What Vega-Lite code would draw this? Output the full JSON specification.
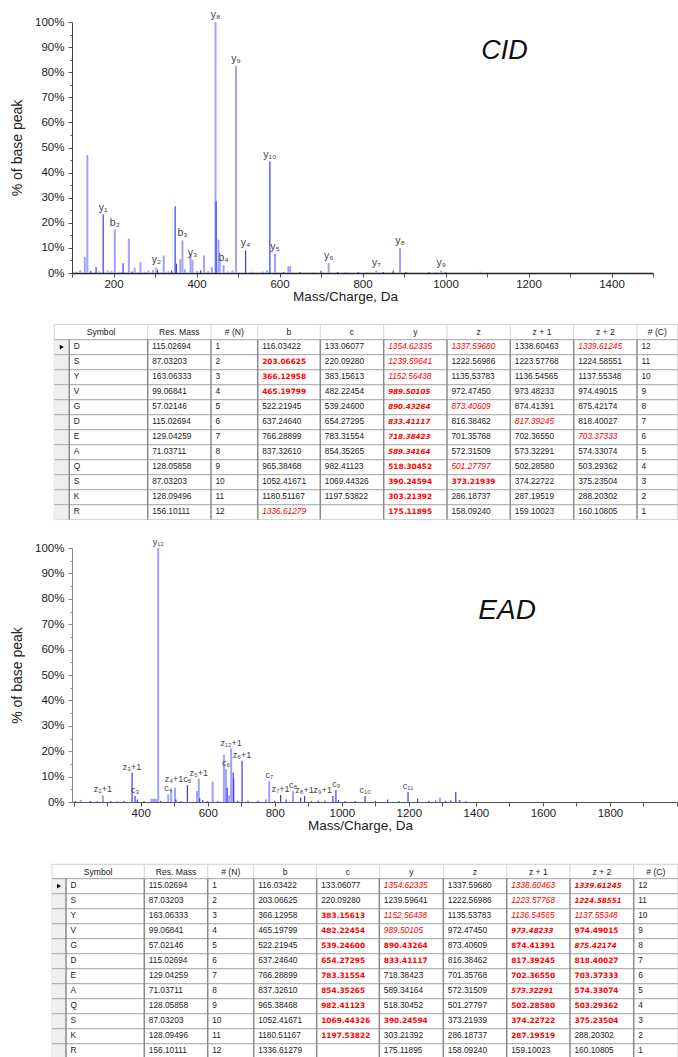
{
"$schema": "https://vega.github.io/schema/vega-lite/v6.json",
"padding": {"left": 10, "top": 10, "right": 0, "bottom": 0},
"background": "white",
"spacing": 20,
"bounds": "flush",
"config": {"font": "Liberation Sans", "view": {"stroke": null}},
"datasets": {
"cid": [
{"mz":110,"pct":0.5,"s":1},{"mz":119.7,"pct":1,"s":1},{"mz":131,"pct":6.4,"s":1},{"mz":137,"pct":47,"s":1},{"mz":145,"pct":0.8,"s":2},{"mz":158,"pct":2.4,"s":2},{"mz":165,"pct":0.6,"s":1},
{"mz":175.12,"pct":23.3,"s":2,"lab":"y₁"},{"mz":186,"pct":1,"s":1},{"mz":195,"pct":0.7,"s":1},{"mz":203.07,"pct":17.3,"s":1,"lab":"b₂"},{"mz":215,"pct":0.5,"s":1},{"mz":223,"pct":3.9,"s":2},
{"mz":237,"pct":13.6,"s":1},{"mz":245,"pct":0.6,"s":2},{"mz":251,"pct":2.1,"s":1},{"mz":265,"pct":4.3,"s":1},{"mz":275,"pct":0.5,"s":1},{"mz":284,"pct":1,"s":1},{"mz":295,"pct":1.2,"s":1},
{"mz":303.21,"pct":2.2,"s":1,"lab":"y₂"},{"mz":306,"pct":1.2,"s":2},{"mz":321,"pct":7,"s":1},{"mz":332,"pct":0.7,"s":1},{"mz":340,"pct":1,"s":2},{"mz":348.5,"pct":26.6,"s":2},{"mz":351.7,"pct":3.7,"s":2},
{"mz":361,"pct":5.6,"s":1},{"mz":366.13,"pct":13,"s":1,"lab":"b₃"},{"mz":372,"pct":1.5,"s":1},{"mz":385.5,"pct":7.7,"s":1},{"mz":390.25,"pct":5.3,"s":1,"lab":"y₃"},{"mz":402,"pct":0.8,"s":1},
{"mz":410,"pct":1.1,"s":2},{"mz":418,"pct":7,"s":1},{"mz":428,"pct":0.8,"s":1},{"mz":437,"pct":2.4,"s":1},{"mz":445.72,"pct":100,"s":1,"lab":"y₈"},{"mz":447.3,"pct":28.6,"s":2},{"mz":453,"pct":13.3,"s":1},
{"mz":456,"pct":5.5,"s":1},{"mz":465.2,"pct":3.2,"s":1,"lab":"b₄"},{"mz":476,"pct":0.6,"s":1},{"mz":486.6,"pct":1,"s":1},{"mz":495.25,"pct":82.4,"s":1,"lab":"y₉"},{"mz":518.3,"pct":9,"s":2,"lab":"y₄"},
{"mz":535,"pct":0.5,"s":1},{"mz":560,"pct":0.6,"s":1},{"mz":570,"pct":1,"s":1},{"mz":576.79,"pct":44.4,"s":2,"lab":"y₁₀"},{"mz":589.34,"pct":7.7,"s":1,"lab":"y₅"},{"mz":610,"pct":0.4,"s":2},
{"mz":621.5,"pct":2.7,"s":1},{"mz":625.5,"pct":2.7,"s":1},{"mz":650,"pct":0.4,"s":2},{"mz":680,"pct":0.3,"s":1},{"mz":700,"pct":0.9,"s":2},{"mz":718.38,"pct":4,"s":1,"lab":"y₆"},{"mz":740,"pct":0.4,"s":2},
{"mz":760,"pct":0.4,"s":1},{"mz":790,"pct":0.4,"s":2},{"mz":810,"pct":0.4,"s":1},{"mz":833.41,"pct":1,"s":1,"lab":"y₇"},{"mz":850,"pct":0.4,"s":2},{"mz":874,"pct":0.9,"s":2},
{"mz":890.43,"pct":10,"s":1,"lab":"y₈"},{"mz":905,"pct":0.4,"s":2},{"mz":960,"pct":0.4,"s":2},{"mz":975,"pct":0.4,"s":1},{"mz":989.5,"pct":1,"s":1,"lab":"y₉"},{"mz":1000,"pct":0.3,"s":2},{"mz":1085,"pct":0.5,"s":1}
],
"ead": [
{"mz":205,"pct":0.4,"s":2},{"mz":221,"pct":0.8,"s":1},{"mz":250,"pct":0.4,"s":2},{"mz":270,"pct":0.3,"s":2},{"mz":287.2,"pct":2.6,"s":1,"lab":"z₂+1"},{"mz":310,"pct":0.4,"s":2},{"mz":330,"pct":0.4,"s":1},
{"mz":350,"pct":0.5,"s":2},{"mz":374.23,"pct":11.6,"s":2,"lab":"z₃+1"},{"mz":383.16,"pct":2.4,"s":2,"lab":"c₃"},{"mz":390,"pct":1,"s":2},{"mz":410,"pct":0.4,"s":2},{"mz":432,"pct":1.3,"s":1},
{"mz":437,"pct":1.3,"s":1},{"mz":442,"pct":1.3,"s":1},{"mz":446,"pct":1.1,"s":1},{"mz":452.21,"pct":100,"s":1,"lab":"y₁₂"},{"mz":460,"pct":0.5,"s":2},{"mz":482.22,"pct":3,"s":1,"lab":"c₄"},
{"mz":491,"pct":4.4,"s":1},{"mz":502.29,"pct":5.6,"s":1,"lab":"z₄+1"},{"mz":505,"pct":1,"s":2},{"mz":520,"pct":0.4,"s":2},{"mz":539.25,"pct":6.7,"s":2,"lab":"c₅"},{"mz":568,"pct":4.3,"s":1},
{"mz":573.32,"pct":9.2,"s":1,"lab":"z₅+1"},{"mz":576,"pct":1.5,"s":2},{"mz":585,"pct":0.8,"s":2},{"mz":600,"pct":0.4,"s":2},{"mz":614.5,"pct":8,"s":1},{"mz":630,"pct":0.4,"s":2},
{"mz":648.2,"pct":18.5,"s":1},{"mz":654.27,"pct":12.9,"s":1,"lab":"c₆"},{"mz":658,"pct":5.6,"s":2},{"mz":664,"pct":2.6,"s":1},{"mz":669.8,"pct":21,"s":1,"lab":"z₁₂+1"},{"mz":676,"pct":11.6,"s":2},
{"mz":677.5,"pct":9,"s":2},{"mz":690,"pct":0.5,"s":2},{"mz":702.37,"pct":16.2,"s":2,"lab":"z₆+1"},{"mz":720,"pct":0.5,"s":2},{"mz":750,"pct":0.5,"s":2},{"mz":774,"pct":1,"s":1},
{"mz":783.32,"pct":8.3,"s":1,"lab":"c₇"},{"mz":800,"pct":0.4,"s":2},{"mz":817.39,"pct":2.8,"s":2,"lab":"z₇+1"},{"mz":834,"pct":1,"s":2},{"mz":854.35,"pct":4.3,"s":1,"lab":"c₈"},
{"mz":877,"pct":1.7,"s":2},{"mz":889,"pct":2.4,"s":2,"lab":"z₈+1"},{"mz":910,"pct":0.4,"s":2},{"mz":930,"pct":0.5,"s":2},{"mz":950,"pct":0.6,"s":2},{"mz":973.48,"pct":2.4,"s":2,"lab":"z₉+1"},
{"mz":982.41,"pct":4.7,"s":2,"lab":"c₉"},{"mz":990,"pct":0.8,"s":2},{"mz":1010,"pct":0.4,"s":2},{"mz":1040,"pct":0.4,"s":2},{"mz":1069.44,"pct":2.4,"s":2,"lab":"c₁₀"},{"mz":1100,"pct":0.4,"s":2},
{"mz":1137,"pct":1,"s":2},{"mz":1170,"pct":0.4,"s":2},{"mz":1197.54,"pct":3.9,"s":2,"lab":"c₁₁"},{"mz":1226,"pct":1.3,"s":2},{"mz":1260,"pct":0.5,"s":2},{"mz":1280,"pct":0.6,"s":2},
{"mz":1293,"pct":1.7,"s":1},{"mz":1310,"pct":0.5,"s":2},{"mz":1325,"pct":0.6,"s":2},{"mz":1340,"pct":3.9,"s":2},{"mz":1352,"pct":0.8,"s":2},{"mz":1370,"pct":0.3,"s":2}
],
"hdr": [
{"c":1,"h":"Symbol"},{"c":2,"h":"Res. Mass"},{"c":3,"h":"# (N)"},{"c":4,"h":"b"},{"c":5,"h":"c"},{"c":6,"h":"y"},{"c":7,"h":"z"},{"c":8,"h":"z + 1"},{"c":9,"h":"z + 2"},{"c":10,"h":"# (C)"}
],
"cells": [
{"r":1,"c":1,"v":"D"},{"r":1,"c":2,"v":"115.02694"},{"r":1,"c":3,"v":"1"},{"r":1,"c":4,"v":"116.03422"},{"r":1,"c":5,"v":"133.06077"},{"r":1,"c":6,"v":"1354.62335","a":2,"e":2},{"r":1,"c":7,"v":"1337.59680","a":2},{"r":1,"c":8,"v":"1338.60463","e":2},{"r":1,"c":9,"v":"1339.61245","a":2,"e":3},{"r":1,"c":10,"v":"12"},
{"r":2,"c":1,"v":"S"},{"r":2,"c":2,"v":"87.03203"},{"r":2,"c":3,"v":"2"},{"r":2,"c":4,"v":"203.06625","a":1},{"r":2,"c":5,"v":"220.09280"},{"r":2,"c":6,"v":"1239.59641","a":2},{"r":2,"c":7,"v":"1222.56986"},{"r":2,"c":8,"v":"1223.57768","e":2},{"r":2,"c":9,"v":"1224.58551","e":3},{"r":2,"c":10,"v":"11"},
{"r":3,"c":1,"v":"Y"},{"r":3,"c":2,"v":"163.06333"},{"r":3,"c":3,"v":"3"},{"r":3,"c":4,"v":"366.12958","a":1},{"r":3,"c":5,"v":"383.15613","e":1},{"r":3,"c":6,"v":"1152.56438","a":2,"e":2},{"r":3,"c":7,"v":"1135.53783"},{"r":3,"c":8,"v":"1136.54565","e":2},{"r":3,"c":9,"v":"1137.55348","e":2},{"r":3,"c":10,"v":"10"},
{"r":4,"c":1,"v":"V"},{"r":4,"c":2,"v":"99.06841"},{"r":4,"c":3,"v":"4"},{"r":4,"c":4,"v":"465.19799","a":1},{"r":4,"c":5,"v":"482.22454","e":1},{"r":4,"c":6,"v":"989.50105","a":3,"e":2},{"r":4,"c":7,"v":"972.47450"},{"r":4,"c":8,"v":"973.48233","e":3},{"r":4,"c":9,"v":"974.49015","e":1},{"r":4,"c":10,"v":"9"},
{"r":5,"c":1,"v":"G"},{"r":5,"c":2,"v":"57.02146"},{"r":5,"c":3,"v":"5"},{"r":5,"c":4,"v":"522.21945"},{"r":5,"c":5,"v":"539.24600","e":1},{"r":5,"c":6,"v":"890.43264","a":3,"e":1},{"r":5,"c":7,"v":"873.40609","a":2},{"r":5,"c":8,"v":"874.41391","e":1},{"r":5,"c":9,"v":"875.42174","e":3},{"r":5,"c":10,"v":"8"},
{"r":6,"c":1,"v":"D"},{"r":6,"c":2,"v":"115.02694"},{"r":6,"c":3,"v":"6"},{"r":6,"c":4,"v":"637.24640"},{"r":6,"c":5,"v":"654.27295","e":1},{"r":6,"c":6,"v":"833.41117","a":3,"e":1},{"r":6,"c":7,"v":"816.38462"},{"r":6,"c":8,"v":"817.39245","a":2,"e":1},{"r":6,"c":9,"v":"818.40027","e":1},{"r":6,"c":10,"v":"7"},
{"r":7,"c":1,"v":"E"},{"r":7,"c":2,"v":"129.04259"},{"r":7,"c":3,"v":"7"},{"r":7,"c":4,"v":"766.28899"},{"r":7,"c":5,"v":"783.31554","e":1},{"r":7,"c":6,"v":"718.38423","a":3},{"r":7,"c":7,"v":"701.35768"},{"r":7,"c":8,"v":"702.36550","e":1},{"r":7,"c":9,"v":"703.37333","a":2,"e":1},{"r":7,"c":10,"v":"6"},
{"r":8,"c":1,"v":"A"},{"r":8,"c":2,"v":"71.03711"},{"r":8,"c":3,"v":"8"},{"r":8,"c":4,"v":"837.32610"},{"r":8,"c":5,"v":"854.35265","e":1},{"r":8,"c":6,"v":"589.34164","a":3},{"r":8,"c":7,"v":"572.31509"},{"r":8,"c":8,"v":"573.32291","e":3},{"r":8,"c":9,"v":"574.33074","e":1},{"r":8,"c":10,"v":"5"},
{"r":9,"c":1,"v":"Q"},{"r":9,"c":2,"v":"128.05858"},{"r":9,"c":3,"v":"9"},{"r":9,"c":4,"v":"965.38468"},{"r":9,"c":5,"v":"982.41123","e":1},{"r":9,"c":6,"v":"518.30452","a":1},{"r":9,"c":7,"v":"501.27797","a":2},{"r":9,"c":8,"v":"502.28580","e":1},{"r":9,"c":9,"v":"503.29362","e":1},{"r":9,"c":10,"v":"4"},
{"r":10,"c":1,"v":"S"},{"r":10,"c":2,"v":"87.03203"},{"r":10,"c":3,"v":"10"},{"r":10,"c":4,"v":"1052.41671"},{"r":10,"c":5,"v":"1069.44326","e":1},{"r":10,"c":6,"v":"390.24594","a":1,"e":1},{"r":10,"c":7,"v":"373.21939","a":1},{"r":10,"c":8,"v":"374.22722","e":1},{"r":10,"c":9,"v":"375.23504","e":1},{"r":10,"c":10,"v":"3"},
{"r":11,"c":1,"v":"K"},{"r":11,"c":2,"v":"128.09496"},{"r":11,"c":3,"v":"11"},{"r":11,"c":4,"v":"1180.51167"},{"r":11,"c":5,"v":"1197.53822","e":1},{"r":11,"c":6,"v":"303.21392","a":1},{"r":11,"c":7,"v":"286.18737"},{"r":11,"c":8,"v":"287.19519","e":1},{"r":11,"c":9,"v":"288.20302"},{"r":11,"c":10,"v":"2"},
{"r":12,"c":1,"v":"R"},{"r":12,"c":2,"v":"156.10111"},{"r":12,"c":3,"v":"12"},{"r":12,"c":4,"v":"1336.61279","a":2},{"r":12,"c":6,"v":"175.11895","a":1},{"r":12,"c":7,"v":"158.09240"},{"r":12,"c":8,"v":"159.10023"},{"r":12,"c":9,"v":"160.10805"},{"r":12,"c":10,"v":"1"}
]
},
"vconcat": [
{
"width": 581, "height": 251,
"data": {"name": "cid"},
"layer": [
{"mark": {"type": "rule"},
 "encoding": {
  "x": {"field": "mz", "type": "quantitative", "scale": {"domain": [100, 1500], "nice": false, "zero": false},
        "axis": {"values": [100,200,300,400,500,600,700,800,900,1000,1100,1200,1300,1400,1500], "tickCount": 40, "labelExpr": "datum.value % 200 === 0 ? datum.label : ''", "format": "d", "title": "Mass/Charge, Da", "titleX": 273, "titleY": 16.5, "grid": false, "tickSize": 4, "labelPadding": 1.5, "labelFontSize": 11.5, "titleFontSize": 13.5, "titleFontWeight": "normal", "labelFlush": false, "labelOverlap": false, "domainColor": "#222", "domainWidth": 1.6, "tickColor": "#555", "labelColor": "#222", "titleColor": "#222"}},
  "y": {"field": "pct", "type": "quantitative", "scale": {"domain": [0, 100], "nice": false},
        "axis": {"values": [0,5,10,15,20,25,30,35,40,45,50,55,60,65,70,75,80,85,90,95,100], "tickCount": 40, "labelExpr": "datum.value % 10 === 0 ? datum.value + '%' : ''", "title": "% of base peak", "grid": false, "tickSize": {"condition": {"test": "datum.value % 10 !== 0", "value": 2}, "value": 4}, "labelPadding": 4, "titlePadding": 10, "labelFontSize": 11.5, "titleFontSize": 14, "titleFontWeight": "normal", "labelFlush": false, "labelOverlap": false, "domainColor": "#444", "tickColor": "#555", "labelColor": "#222", "titleColor": "#222"}},
  "y2": {"datum": 0},
  "color": {"field": "s", "type": "ordinal", "scale": {"domain": [1, 2], "range": ["#a0a0ff", "#3a3aff"]}, "legend": null},
  "strokeWidth": {"field": "s", "type": "ordinal", "scale": {"domain": [1, 2], "range": [2, 1.2]}, "legend": null}
 }},
{"transform": [{"filter": "datum.lab"}],
 "mark": {"type": "text", "fontSize": 10.5, "color": "#444", "baseline": "alphabetic", "dy": -4},
 "encoding": {"x": {"field": "mz", "type": "quantitative"}, "y": {"field": "pct", "type": "quantitative"}, "text": {"field": "lab"}}},
{"data": {"values": [{}]},
 "mark": {"type": "text", "text": "CID", "fontSize": 27, "fontStyle": "italic", "color": "#111", "baseline": "middle"},
 "encoding": {"x": {"datum": 1142, "type": "quantitative"}, "y": {"datum": 88.3, "type": "quantitative"}}}
]
},
{
"width": 606, "height": 235,
"data": {"name": "cells"},
"resolve": {"scale": {"x": "independent"}},
"layer": [
{"data": {"values": [{}]}, "mark": {"type": "rect", "fill": "white", "stroke": "#cfcfcf", "strokeWidth": 1},
 "encoding": {"x": {"datum": 0, "type": "quantitative", "scale": {"domain": [0,1,2,3,4,5,6,7,8,9,10,11], "range": [-17.7,-2.7,75.7,139,185.7,248.3,311.7,375,438.3,501.7,565,605.7], "nice": false, "zero": false}, "axis": null}, "x2": {"datum": 11},
  "y": {"datum": 0, "type": "quantitative", "scale": {"domain": [0,1,13], "range": [31.6,46.6,226.6], "nice": false, "zero": false}, "axis": null}, "y2": {"datum": 13}}},
{"data": {"values": [{}]}, "mark": {"type": "rect", "fill": "#f0f0f0"},
 "encoding": {"x": {"datum": 0, "type": "quantitative", "scale": {"domain": [0,1,2,3,4,5,6,7,8,9,10,11], "range": [-17.7,-2.7,75.7,139,185.7,248.3,311.7,375,438.3,501.7,565,605.7], "nice": false, "zero": false}, "axis": null}, "x2": {"datum": 1},
  "y": {"datum": 1, "type": "quantitative", "scale": {"domain": [0,1,13], "range": [31.6,46.6,226.6], "nice": false, "zero": false}, "axis": null}, "y2": {"datum": 13}}},
{"transform": [{"filter": "datum.c == 1"}], "mark": {"type": "rule", "stroke": "#b4b4b4", "strokeWidth": 1.4},
 "encoding": {"x": {"datum": 0, "type": "quantitative", "scale": {"domain": [0,1,2,3,4,5,6,7,8,9,10,11], "range": [-17.7,-2.7,75.7,139,185.7,248.3,311.7,375,438.3,501.7,565,605.7], "nice": false, "zero": false}, "axis": null}, "x2": {"datum": 11},
  "y": {"field": "r", "type": "quantitative", "scale": {"domain": [0,1,13], "range": [31.6,46.6,226.6], "nice": false, "zero": false}, "axis": null}}},
{"data": {"name": "hdr"}, "mark": {"type": "rule", "stroke": "#8a8a8a", "strokeWidth": 1.5},
 "encoding": {"x": {"field": "c", "type": "quantitative", "scale": {"domain": [0,1,2,3,4,5,6,7,8,9,10,11], "range": [-17.7,-2.7,75.7,139,185.7,248.3,311.7,375,438.3,501.7,565,605.7], "nice": false, "zero": false}, "axis": null},
  "y": {"datum": 1, "type": "quantitative", "scale": {"domain": [0,1,13], "range": [31.6,46.6,226.6], "nice": false, "zero": false}, "axis": null}, "y2": {"datum": 13}}},
{"data": {"name": "hdr"}, "transform": [{"filter": "datum.c > 1"}], "mark": {"type": "rule", "stroke": "#d6d6d6", "strokeWidth": 1},
 "encoding": {"x": {"field": "c", "type": "quantitative", "scale": {"domain": [0,1,2,3,4,5,6,7,8,9,10,11], "range": [-17.7,-2.7,75.7,139,185.7,248.3,311.7,375,438.3,501.7,565,605.7], "nice": false, "zero": false}, "axis": null},
  "y": {"datum": 0, "type": "quantitative", "scale": {"domain": [0,1,13], "range": [31.6,46.6,226.6], "nice": false, "zero": false}, "axis": null}, "y2": {"datum": 1}}},
{"data": {"values": [{}]}, "mark": {"type": "point", "shape": "triangle-right", "filled": true, "color": "black", "size": 22, "opacity": 1},
 "encoding": {"x": {"datum": 0.5, "type": "quantitative", "scale": {"domain": [0,1,2,3,4,5,6,7,8,9,10,11], "range": [-17.7,-2.7,75.7,139,185.7,248.3,311.7,375,438.3,501.7,565,605.7], "nice": false, "zero": false}, "axis": null},
  "y": {"datum": 1.5, "type": "quantitative", "scale": {"domain": [0,1,13], "range": [31.6,46.6,226.6], "nice": false, "zero": false}, "axis": null}}},
{"data": {"name": "hdr"}, "mark": {"type": "text", "fontSize": 8.6, "color": "#222", "baseline": "middle", "dy": 7.5},
 "encoding": {"x": {"field": "c", "type": "quantitative", "scale": {"domain": [1,2,3,4,5,6,7,8,9,10], "range": [29,107.35,162.35,217,280,343.35,406.65,470,533.35,585.35], "nice": false, "zero": false}, "axis": null},
  "y": {"datum": 0, "type": "quantitative", "scale": {"domain": [0,1,13], "range": [31.6,46.6,226.6], "nice": false, "zero": false}, "axis": null}, "text": {"field": "h"}}},
{"transform": [{"filter": "!datum.a"}], "mark": {"type": "text", "align": "left", "baseline": "middle", "dx": 4.5, "dy": 7.5, "fontSize": 8.3, "color": "#222"},
 "encoding": {"x": {"field": "c", "type": "quantitative", "scale": {"domain": [0,1,2,3,4,5,6,7,8,9,10,11], "range": [-17.7,-2.7,75.7,139,185.7,248.3,311.7,375,438.3,501.7,565,605.7], "nice": false, "zero": false}, "axis": null},
  "y": {"field": "r", "type": "quantitative", "scale": {"domain": [0,1,13], "range": [31.6,46.6,226.6], "nice": false, "zero": false}, "axis": null}, "text": {"field": "v"}}},
{"transform": [{"filter": "datum.a == 1"}], "mark": {"type": "text", "align": "left", "baseline": "middle", "dx": 4.5, "dy": 7.5, "font": "DejaVu Sans", "fontSize": 7.4, "fontWeight": "bold", "color": "#ff0000"},
 "encoding": {"x": {"field": "c", "type": "quantitative", "scale": {"domain": [0,1,2,3,4,5,6,7,8,9,10,11], "range": [-17.7,-2.7,75.7,139,185.7,248.3,311.7,375,438.3,501.7,565,605.7], "nice": false, "zero": false}, "axis": null},
  "y": {"field": "r", "type": "quantitative", "scale": {"domain": [0,1,13], "range": [31.6,46.6,226.6], "nice": false, "zero": false}, "axis": null}, "text": {"field": "v"}}},
{"transform": [{"filter": "datum.a == 2"}], "mark": {"type": "text", "align": "left", "baseline": "middle", "dx": 4.5, "dy": 7.5, "fontSize": 8.3, "fontStyle": "italic", "color": "#ff0000"},
 "encoding": {"x": {"field": "c", "type": "quantitative", "scale": {"domain": [0,1,2,3,4,5,6,7,8,9,10,11], "range": [-17.7,-2.7,75.7,139,185.7,248.3,311.7,375,438.3,501.7,565,605.7], "nice": false, "zero": false}, "axis": null},
  "y": {"field": "r", "type": "quantitative", "scale": {"domain": [0,1,13], "range": [31.6,46.6,226.6], "nice": false, "zero": false}, "axis": null}, "text": {"field": "v"}}},
{"transform": [{"filter": "datum.a == 3"}], "mark": {"type": "text", "align": "left", "baseline": "middle", "dx": 4.5, "dy": 7.5, "font": "DejaVu Sans", "fontSize": 7.1, "fontWeight": "bold", "fontStyle": "italic", "color": "#ff0000"},
 "encoding": {"x": {"field": "c", "type": "quantitative", "scale": {"domain": [0,1,2,3,4,5,6,7,8,9,10,11], "range": [-17.7,-2.7,75.7,139,185.7,248.3,311.7,375,438.3,501.7,565,605.7], "nice": false, "zero": false}, "axis": null},
  "y": {"field": "r", "type": "quantitative", "scale": {"domain": [0,1,13], "range": [31.6,46.6,226.6], "nice": false, "zero": false}, "axis": null}, "text": {"field": "v"}}}
]
},
{
"width": 605, "height": 254,
"data": {"name": "ead"},
"layer": [
{"mark": {"type": "rule"},
 "encoding": {
  "x": {"field": "mz", "type": "quantitative", "scale": {"domain": [195, 2000], "nice": false, "zero": false},
        "axis": {"values": [200,300,400,500,600,700,800,900,1000,1100,1200,1300,1400,1500,1600,1700,1800,1900,2000], "tickCount": 40, "labelExpr": "datum.value % 200 === 0 && datum.value > 200 && datum.value < 2000 ? datum.label : ''", "format": "d", "title": "Mass/Charge, Da", "titleX": 288, "titleY": 16.5, "grid": false, "tickSize": 4, "labelPadding": 1.5, "labelFontSize": 11.5, "titleFontSize": 13.5, "titleFontWeight": "normal", "labelFlush": false, "labelOverlap": false, "domainColor": "#555", "domainWidth": 1.2, "tickColor": "#555", "labelColor": "#222", "titleColor": "#222"}},
  "y": {"field": "pct", "type": "quantitative", "scale": {"domain": [0, 100], "nice": false},
        "axis": {"values": [0,5,10,15,20,25,30,35,40,45,50,55,60,65,70,75,80,85,90,95,100], "tickCount": 40, "labelExpr": "datum.value % 10 === 0 ? datum.value + '%' : ''", "title": "% of base peak", "grid": false, "tickSize": {"condition": {"test": "datum.value % 10 !== 0", "value": 2}, "value": 4}, "labelPadding": 4, "titlePadding": 10, "labelFontSize": 11.5, "titleFontSize": 14, "titleFontWeight": "normal", "labelFlush": false, "labelOverlap": false, "domainColor": "#888", "tickColor": "#888", "labelColor": "#222", "titleColor": "#222"}},
  "y2": {"datum": 0},
  "color": {"field": "s", "type": "ordinal", "scale": {"domain": [1, 2], "range": ["#a0a0ff", "#3a3aff"]}, "legend": null},
  "strokeWidth": {"field": "s", "type": "ordinal", "scale": {"domain": [1, 2], "range": [2, 1.2]}, "legend": null}
 }},
{"transform": [{"filter": "datum.lab && datum.lab !== 'z₉+1' && datum.lab !== 'z₄+1'"}],
 "mark": {"type": "text", "fontSize": 9, "color": "#444", "baseline": "alphabetic", "dy": -3},
 "encoding": {"x": {"field": "mz", "type": "quantitative"}, "y": {"field": "pct", "type": "quantitative"}, "text": {"field": "lab"}}},
{"transform": [{"filter": "datum.lab === 'z₉+1'"}],
 "mark": {"type": "text", "fontSize": 9, "color": "#444", "baseline": "alphabetic", "align": "right", "dx": -1, "dy": -3},
 "encoding": {"x": {"field": "mz", "type": "quantitative"}, "y": {"field": "pct", "type": "quantitative"}, "text": {"field": "lab"}}},
{"transform": [{"filter": "datum.lab === 'z₄+1'"}],
 "mark": {"type": "text", "fontSize": 9, "color": "#444", "baseline": "alphabetic", "dx": -1, "dy": -5.5},
 "encoding": {"x": {"field": "mz", "type": "quantitative"}, "y": {"field": "pct", "type": "quantitative"}, "text": {"field": "lab"}}},
{"data": {"values": [{}]},
 "mark": {"type": "text", "text": "EAD", "fontSize": 28, "fontStyle": "italic", "color": "#111", "baseline": "middle"},
 "encoding": {"x": {"datum": 1493, "type": "quantitative"}, "y": {"datum": 75.2, "type": "quantitative"}}}
]
},
{
"width": 606, "height": 240,
"data": {"name": "cells"},
"resolve": {"scale": {"x": "independent"}},
"layer": [
{"data": {"values": [{}]}, "mark": {"type": "rect", "fill": "white", "stroke": "#cfcfcf", "strokeWidth": 1},
 "encoding": {"x": {"datum": 0, "type": "quantitative", "scale": {"domain": [0,1,2,3,4,5,6,7,8,9,10,11], "range": [-20,-6,72.3,135.7,181.7,244.7,307.3,371.3,434.7,498,561.7,606], "nice": false, "zero": false}, "axis": null}, "x2": {"datum": 11},
  "y": {"datum": 0, "type": "quantitative", "scale": {"domain": [0,1,13], "range": [42.3,56.6,236.6], "nice": false, "zero": false}, "axis": null}, "y2": {"datum": 13}}},
{"data": {"values": [{}]}, "mark": {"type": "rect", "fill": "#f0f0f0"},
 "encoding": {"x": {"datum": 0, "type": "quantitative", "scale": {"domain": [0,1,2,3,4,5,6,7,8,9,10,11], "range": [-20,-6,72.3,135.7,181.7,244.7,307.3,371.3,434.7,498,561.7,606], "nice": false, "zero": false}, "axis": null}, "x2": {"datum": 1},
  "y": {"datum": 1, "type": "quantitative", "scale": {"domain": [0,1,13], "range": [42.3,56.6,236.6], "nice": false, "zero": false}, "axis": null}, "y2": {"datum": 13}}},
{"transform": [{"filter": "datum.c == 1"}], "mark": {"type": "rule", "stroke": "#b4b4b4", "strokeWidth": 1.4},
 "encoding": {"x": {"datum": 0, "type": "quantitative", "scale": {"domain": [0,1,2,3,4,5,6,7,8,9,10,11], "range": [-20,-6,72.3,135.7,181.7,244.7,307.3,371.3,434.7,498,561.7,606], "nice": false, "zero": false}, "axis": null}, "x2": {"datum": 11},
  "y": {"field": "r", "type": "quantitative", "scale": {"domain": [0,1,13], "range": [42.3,56.6,236.6], "nice": false, "zero": false}, "axis": null}}},
{"data": {"name": "hdr"}, "mark": {"type": "rule", "stroke": "#8a8a8a", "strokeWidth": 1.5},
 "encoding": {"x": {"field": "c", "type": "quantitative", "scale": {"domain": [0,1,2,3,4,5,6,7,8,9,10,11], "range": [-20,-6,72.3,135.7,181.7,244.7,307.3,371.3,434.7,498,561.7,606], "nice": false, "zero": false}, "axis": null},
  "y": {"datum": 1, "type": "quantitative", "scale": {"domain": [0,1,13], "range": [42.3,56.6,236.6], "nice": false, "zero": false}, "axis": null}, "y2": {"datum": 13}}},
{"data": {"name": "hdr"}, "transform": [{"filter": "datum.c > 1"}], "mark": {"type": "rule", "stroke": "#d6d6d6", "strokeWidth": 1},
 "encoding": {"x": {"field": "c", "type": "quantitative", "scale": {"domain": [0,1,2,3,4,5,6,7,8,9,10,11], "range": [-20,-6,72.3,135.7,181.7,244.7,307.3,371.3,434.7,498,561.7,606], "nice": false, "zero": false}, "axis": null},
  "y": {"datum": 0, "type": "quantitative", "scale": {"domain": [0,1,13], "range": [42.3,56.6,236.6], "nice": false, "zero": false}, "axis": null}, "y2": {"datum": 1}}},
{"data": {"values": [{}]}, "mark": {"type": "point", "shape": "triangle-right", "filled": true, "color": "black", "size": 22, "opacity": 1},
 "encoding": {"x": {"datum": 0.5, "type": "quantitative", "scale": {"domain": [0,1,2,3,4,5,6,7,8,9,10,11], "range": [-20,-6,72.3,135.7,181.7,244.7,307.3,371.3,434.7,498,561.7,606], "nice": false, "zero": false}, "axis": null},
  "y": {"datum": 1.5, "type": "quantitative", "scale": {"domain": [0,1,13], "range": [42.3,56.6,236.6], "nice": false, "zero": false}, "axis": null}}},
{"data": {"name": "hdr"}, "mark": {"type": "text", "fontSize": 8.6, "color": "#222", "baseline": "middle", "dy": 7.2},
 "encoding": {"x": {"field": "c", "type": "quantitative", "scale": {"domain": [1,2,3,4,5,6,7,8,9,10], "range": [26.15,104,158.7,213.2,276,339.3,403,466.35,529.85,583.85], "nice": false, "zero": false}, "axis": null},
  "y": {"datum": 0, "type": "quantitative", "scale": {"domain": [0,1,13], "range": [42.3,56.6,236.6], "nice": false, "zero": false}, "axis": null}, "text": {"field": "h"}}},
{"transform": [{"filter": "!datum.e"}], "mark": {"type": "text", "align": "left", "baseline": "middle", "dx": 4.5, "dy": 7.5, "fontSize": 8.3, "color": "#222"},
 "encoding": {"x": {"field": "c", "type": "quantitative", "scale": {"domain": [0,1,2,3,4,5,6,7,8,9,10,11], "range": [-20,-6,72.3,135.7,181.7,244.7,307.3,371.3,434.7,498,561.7,606], "nice": false, "zero": false}, "axis": null},
  "y": {"field": "r", "type": "quantitative", "scale": {"domain": [0,1,13], "range": [42.3,56.6,236.6], "nice": false, "zero": false}, "axis": null}, "text": {"field": "v"}}},
{"transform": [{"filter": "datum.e == 1"}], "mark": {"type": "text", "align": "left", "baseline": "middle", "dx": 4.5, "dy": 7.5, "font": "DejaVu Sans", "fontSize": 7.4, "fontWeight": "bold", "color": "#ff0000"},
 "encoding": {"x": {"field": "c", "type": "quantitative", "scale": {"domain": [0,1,2,3,4,5,6,7,8,9,10,11], "range": [-20,-6,72.3,135.7,181.7,244.7,307.3,371.3,434.7,498,561.7,606], "nice": false, "zero": false}, "axis": null},
  "y": {"field": "r", "type": "quantitative", "scale": {"domain": [0,1,13], "range": [42.3,56.6,236.6], "nice": false, "zero": false}, "axis": null}, "text": {"field": "v"}}},
{"transform": [{"filter": "datum.e == 2"}], "mark": {"type": "text", "align": "left", "baseline": "middle", "dx": 4.5, "dy": 7.5, "fontSize": 8.3, "fontStyle": "italic", "color": "#ff0000"},
 "encoding": {"x": {"field": "c", "type": "quantitative", "scale": {"domain": [0,1,2,3,4,5,6,7,8,9,10,11], "range": [-20,-6,72.3,135.7,181.7,244.7,307.3,371.3,434.7,498,561.7,606], "nice": false, "zero": false}, "axis": null},
  "y": {"field": "r", "type": "quantitative", "scale": {"domain": [0,1,13], "range": [42.3,56.6,236.6], "nice": false, "zero": false}, "axis": null}, "text": {"field": "v"}}},
{"transform": [{"filter": "datum.e == 3"}], "mark": {"type": "text", "align": "left", "baseline": "middle", "dx": 4.5, "dy": 7.5, "font": "DejaVu Sans", "fontSize": 7.1, "fontWeight": "bold", "fontStyle": "italic", "color": "#ff0000"},
 "encoding": {"x": {"field": "c", "type": "quantitative", "scale": {"domain": [0,1,2,3,4,5,6,7,8,9,10,11], "range": [-20,-6,72.3,135.7,181.7,244.7,307.3,371.3,434.7,498,561.7,606], "nice": false, "zero": false}, "axis": null},
  "y": {"field": "r", "type": "quantitative", "scale": {"domain": [0,1,13], "range": [42.3,56.6,236.6], "nice": false, "zero": false}, "axis": null}, "text": {"field": "v"}}}
]
}
]
}
